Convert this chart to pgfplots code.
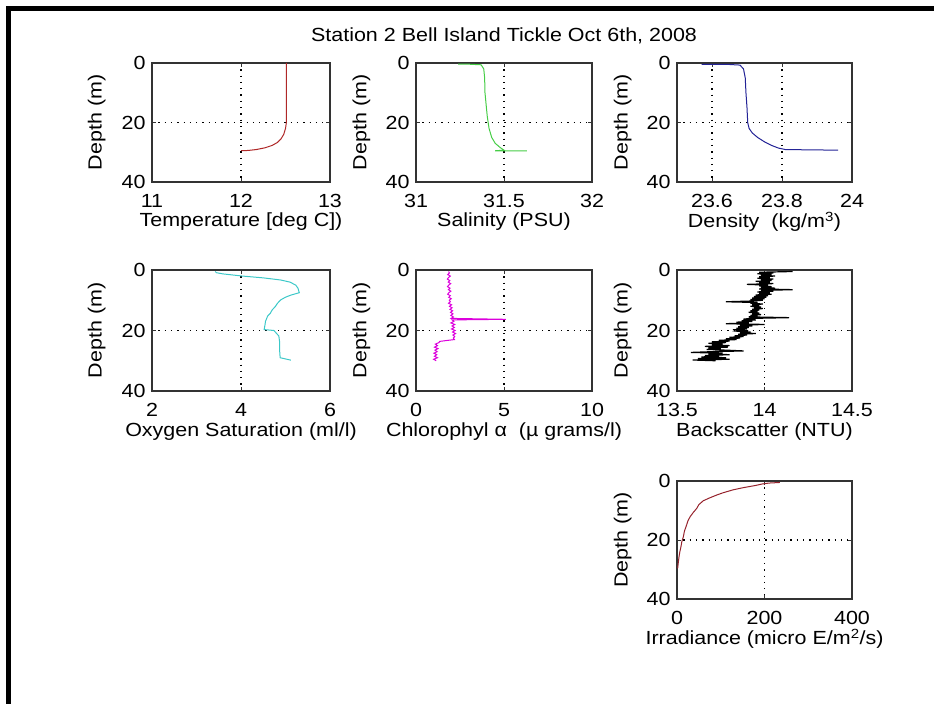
\documentclass[border=0pt]{standalone}
\usepackage{fontspec}
\setmainfont{Liberation Sans}[FakeStretch=1.13]
\usepackage{pgfplots}
\pgfplotsset{compat=1.18}

\definecolor{tempred}{RGB}{175,40,40}
\definecolor{salgreen}{RGB}{70,205,70}
\definecolor{densblue}{RGB}{35,35,150}
\definecolor{oxcyan}{RGB}{60,200,200}
\definecolor{chlmag}{RGB}{220,0,220}
\definecolor{irrred}{RGB}{150,35,45}

\pgfplotsset{
  profile/.style={
    scale only axis, anchor=south west,
    y dir=reverse, ymin=0, ymax=40, ytick={0,20,40},
    grid=major,
    grid style={black, line width=1.1pt, dash pattern=on 1.3pt off 5pt},
    axis line style={black!80, line width=1.2pt},
    tick style={black!80, line width=1pt},
    major tick length=4pt,
    tick label style={/pgf/number format/assume math mode=true},
    xticklabel style={yshift=-6pt},
    ylabel={Depth (m)},
    ylabel style={at={(axis description cs:-0.31,0.5)}, anchor=center},
    xlabel style={at={(axis description cs:0.5,-0.335)}, anchor=center},
    every axis plot/.append style={line width=1pt},
  }
}

\begin{document}
\fontsize{19}{22}\selectfont
\begin{tikzpicture}
\useasboundingbox (0pt,0pt) rectangle (934pt,704pt);
% frame strips along the top and left edges
\fill[black] (6pt,693pt) rectangle (934pt,698pt);
\fill[black] (6pt,0pt) rectangle (11pt,698pt);

% ---- Temperature
\begin{axis}[profile, at={(152pt,522pt)}, width=178pt, height=119pt,
  xmin=11, xmax=13, xtick={11,12,13},
  xlabel={Temperature [deg C])}]
\addplot[tempred] coordinates {
(12.51,0) (12.51,10) (12.51,20) (12.50,22) (12.48,24) (12.45,25.5)
(12.41,26.7) (12.35,27.7) (12.27,28.5) (12.17,29.1) (12.08,29.4) (12.00,29.5)};
\end{axis}

% ---- Salinity
\begin{axis}[profile, at={(416pt,522pt)}, width=176pt, height=119pt,
  xmin=31, xmax=32, xtick={31,31.5,32},
  xlabel={Salinity (PSU)},
  title={Station 2 Bell Island Tickle Oct 6th, 2008},
  title style={at={(axis description cs:0.5,1)}, anchor=south, yshift=7pt}]
\addplot[salgreen] coordinates {
(31.24,0.4) (31.30,0.4) (31.37,0.6) (31.385,2) (31.39,5) (31.392,10)
(31.40,15) (31.405,18) (31.415,22) (31.43,25) (31.45,27) (31.48,28.5)
(31.50,29.3) (31.45,29.5) (31.63,29.5)};
\end{axis}

% ---- Density
\begin{axis}[profile, at={(677pt,522pt)}, width=175pt, height=119pt,
  xmin=23.5, xmax=24, xtick={23.6,23.8,24},
  xticklabel style={/pgf/number format/fixed, /pgf/number format/precision=1},
  xlabel={Density\ \ (kg/m\textsuperscript{3})}]
\addplot[densblue] coordinates {
(23.57,0.5) (23.65,0.5) (23.68,0.7) (23.69,2) (23.695,5) (23.697,10)
(23.70,15) (23.702,20) (23.706,22) (23.715,23.5) (23.73,25) (23.75,26.5)
(23.77,27.7) (23.79,28.6) (23.81,29.1) (23.96,29.3)};
\end{axis}

% ---- Oxygen saturation
\begin{axis}[profile, at={(152pt,313pt)}, width=178pt, height=121pt,
  xmin=2, xmax=6, xtick={2,4,6},
  xlabel={Oxygen Saturation (ml/l)}]
\addplot[oxcyan] coordinates {
(3.42,0.5) (3.45,0.9) (3.60,1.3) (4.03,2.0) (4.50,2.6) (4.89,3.3)
(5.10,4.0) (5.23,5.0) (5.28,6.0) (5.31,7.5) (5.12,8.3) (5.00,9.0)
(4.89,9.9) (4.82,11) (4.77,12.1) (4.70,13.2) (4.66,14.3) (4.60,15.2)
(4.58,15.9) (4.55,17) (4.54,18.1) (4.52,19.7) (4.74,20.0) (4.80,21)
(4.85,21.8) (4.87,24) (4.87,27) (4.88,29) (5.12,29.8)};
\end{axis}

% ---- Chlorophyll
\begin{axis}[profile, at={(416pt,313pt)}, width=176pt, height=121pt,
  xmin=0, xmax=10, xtick={0,5,10},
  xlabel={Chlorophyl α\ \ (µ grams/l)}]
\addplot[chlmag] coordinates {
(1.85,0.5) (1.90,1.0) (1.80,1.5) (1.95,2.0) (1.85,2.5) (1.78,3.0)
(1.92,3.5) (1.83,4.0) (1.97,4.5) (1.86,5.0) (1.79,5.5) (1.93,6.0)
(1.84,6.5) (1.98,7.0) (1.87,7.5) (1.80,8.0) (1.95,8.5) (1.86,9.0)
(2.00,9.5) (1.89,10.0) (1.95,10.5) (1.85,11.0) (2.02,11.5) (1.90,12.0)
(2.05,12.5) (1.93,13.0) (2.08,13.5) (1.96,14.0) (2.10,14.5) (1.98,15.0)
(2.12,15.5) (2.00,16.0) (5.10,16.3) (2.05,16.5) (2.15,17.0) (1.98,17.5)
(2.20,18.0) (2.05,18.5) (2.18,19.0) (2.02,19.5) (2.22,20.0) (2.08,20.5)
(2.25,21.0) (2.10,21.5) (2.20,22.0) (2.12,22.5) (2.18,23.0) (1.75,23.3)
(1.35,23.6) (1.30,24.0) (1.10,24.5) (1.22,25.0) (1.05,25.5) (1.25,26.0)
(1.08,26.5) (1.20,27.0) (1.02,27.5) (1.18,28.0) (1.05,28.5) (1.22,29.0)
(1.00,29.5) (1.15,30.0)};
\end{axis}

% ---- Backscatter
\begin{axis}[profile, at={(677pt,313pt)}, width=175pt, height=121pt,
  xmin=13.5, xmax=14.5, xtick={13.5,14,14.5},
  xlabel={Backscatter (NTU)}]
\addplot[black, line width=1.2pt] coordinates {
(14.16,0.5) (13.97,0.75) (14.05,1.0) (13.96,1.25) (14.04,1.5) (13.98,1.75)
(14.06,2.0) (13.97,2.25) (14.03,2.5) (13.96,2.75) (14.05,3.0) (13.98,3.25)
(14.04,3.5) (13.95,3.75) (14.03,4.0) (13.97,4.25) (14.05,4.5) (13.90,4.75)
(14.02,5.0) (13.97,5.25) (14.04,5.5) (13.98,5.75) (14.06,6.0) (13.97,6.25)
(14.16,6.5) (13.98,6.75) (14.05,7.0) (13.96,7.25) (14.03,7.5) (13.97,7.75)
(14.04,8.0) (13.95,8.25) (14.02,8.5) (13.94,8.75) (14.01,9.0) (13.93,9.25)
(14.00,9.5) (13.92,9.75) (13.99,10.0) (13.93,10.25) (13.78,10.5) (13.96,10.75)
(13.92,11.0) (13.99,11.25) (13.93,11.5) (13.97,11.75) (13.92,12.0) (13.98,12.25)
(13.94,12.5) (13.99,12.75) (13.93,13.0) (13.97,13.25) (13.92,13.5) (13.96,13.75)
(13.91,14.0) (13.97,14.25) (13.93,14.5) (13.98,14.75) (13.92,15.0) (13.96,15.25)
(13.91,15.5) (14.14,15.75) (13.92,16.0) (13.88,16.25) (13.95,16.5) (13.87,16.75)
(13.93,17.0) (13.84,17.25) (13.91,17.5) (13.78,17.75) (14.00,18.0) (13.86,18.25)
(13.93,18.5) (13.85,18.75) (13.91,19.0) (13.84,19.25) (13.90,19.5) (13.82,19.75)
(13.88,20.0) (13.85,20.25) (13.92,20.5) (13.86,20.75) (13.95,21.0) (13.85,21.25)
(13.90,21.5) (13.83,21.75) (13.88,22.0) (13.80,22.25) (13.86,22.5) (13.78,22.75)
(13.84,23.0) (13.74,23.25) (13.80,23.5) (13.70,23.75) (13.78,24.0) (13.68,24.25)
(13.76,24.5) (13.70,24.75) (13.80,25.0) (13.66,25.25) (13.79,25.5) (13.68,25.75)
(13.75,26.0) (13.67,26.25) (13.78,26.5) (13.88,26.75) (13.70,27.0) (13.58,27.25)
(13.76,27.5) (13.68,27.75) (13.80,28.0) (13.66,28.25) (13.74,28.5) (13.64,28.75)
(13.78,29.0) (13.62,29.25) (13.80,29.5) (13.59,29.75) (13.72,30.0)};
\end{axis}

% ---- Irradiance
\begin{axis}[profile, at={(677pt,105pt)}, width=175pt, height=118pt,
  xmin=0, xmax=400, xtick={0,200,400},
  xlabel={Irradiance (micro E/m\textsuperscript{2}/s)}]
\addplot[irrred] coordinates {
(235,0.5) (210,0.7) (195,1.0) (180,1.5) (150,2.3) (128,3.0) (105,4.0)
(90,4.8) (75,5.7) (60,6.7) (50,8.0) (45,9.3) (37,10.7) (30,12.1)
(25,13.5) (22,14.9) (17,17.0) (14.5,18.9) (11,20.6) (9,22.3) (6.5,24.0)
(4.6,25.7) (3,27.6) (1.5,29.6)};
\end{axis}
\end{tikzpicture}
\end{document}
